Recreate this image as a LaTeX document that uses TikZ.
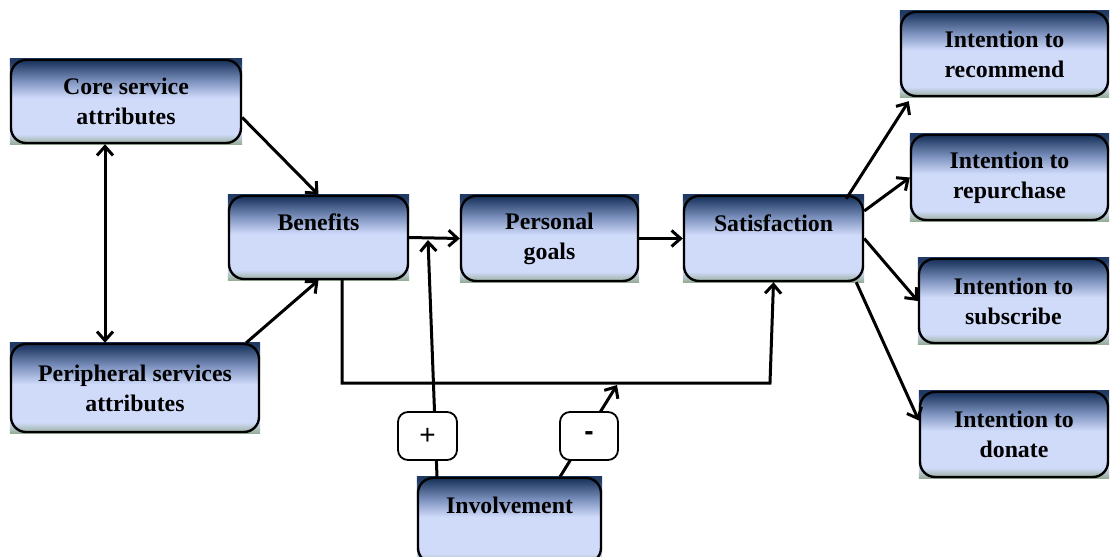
\documentclass[tikz,border=0pt]{standalone}
\usepackage{fontspec}
\setmainfont{Liberation Serif}
\newfontfamily\signfont{Liberation Sans}
\usetikzlibrary{arrows.meta,backgrounds}
\definecolor{bdark}{RGB}{32,58,100}
\definecolor{bmid}{RGB}{125,146,190}
\definecolor{blight}{RGB}{208,219,250}
\definecolor{bgreen}{RGB}{150,172,150}
\pgfdeclareverticalshading{boxshade}{100bp}{color(0bp)=(bgreen); color(25bp)=(bgreen); color(31bp)=(blight); color(52bp)=(blight); color(62bp)=(bmid); color(73bp)=(bdark); color(100bp)=(bdark)}
\tikzset{
  box/.style={draw=black, line width=1.2pt, rounded corners=7.5pt, align=center,
    font=\fontsize{11.9pt}{15pt}\selectfont\bfseries, inner sep=0pt},
  sign/.style={draw=black, fill=white, line width=0.9pt, rounded corners=5pt,
    font=\signfont\fontsize{14pt}{15pt}\selectfont, inner sep=0pt},
  conn/.style={line width=1.5pt, -{Straight Barb[length=4.5pt,width=8pt]}},
  dconn/.style={line width=1.5pt, {Straight Barb[length=4.5pt,width=8pt]}-{Straight Barb[length=4.5pt,width=8pt]}},
}
\newcommand\shadebox[1]{\shade[shading=boxshade] (#1.south west) rectangle (#1.north east);}
\begin{document}
\begin{tikzpicture}[x=0.5pt,y=-0.5pt]
\useasboundingbox (0,0) rectangle (1110,557);
% boxes
\node[box, minimum width=115pt, minimum height=41.5pt] (core) at (126,101.5) {Core service\\attributes};
\node[box, minimum width=89.5pt, minimum height=41.5pt] (ben) at (318.5,237.5) {Benefits\\\mbox{}};
\node[box, minimum width=124pt, minimum height=44pt] (peri) at (135,388) {Peripheral services\\attributes};
\node[box, minimum width=88.5pt, minimum height=42.5pt] (pers) at (549.5,238.5) {Personal\\goals};
\node[box, minimum width=89.5pt, minimum height=42.5pt] (sat) at (773.5,238.5) {Satisfaction\\\mbox{}};
\node[box, minimum width=91.5pt, minimum height=42.5pt] (inv) at (509.5,520.5) {Involvement\\\mbox{}};
\node[box, minimum width=103.5pt, minimum height=42pt] (rec) at (1004.5,54) {Intention to\\recommend};
\node[box, minimum width=98.5pt, minimum height=42.5pt] (rep) at (1009.5,177.5) {Intention to\\repurchase};
\node[box, minimum width=94.5pt, minimum height=42pt] (sub) at (1013.5,301) {Intention to\\subscribe};
\node[box, minimum width=94pt, minimum height=42.5pt] (don) at (1014,434.5) {Intention to\\donate};
\begin{scope}[on background layer]
\foreach \b in {core,ben,peri,pers,sat,inv,rec,rep,sub,don}{\shadebox{\b}}
\end{scope}
% coordinates
\coordinate (fbL) at (342,383);
\coordinate (fbR) at (770,383);
\coordinate (plustip) at (428,240);
\coordinate (mintip) at (617,385);
% connectors
\draw[conn] ([yshift=-8pt]core.east) -- (ben.north);
\draw[conn] ([xshift=-7pt]peri.north east) -- (ben.south);
\draw[dconn] ([xshift=-10.5pt]core.south) -- ([xshift=-15pt]peri.north);
\draw[conn] (ben.east) -- (pers.west);
\draw[conn] (pers.east) -- (sat.west);
\draw[conn] ([xshift=11.75pt]ben.south) -- (fbL) -- (fbR) -- (sat.south);
\draw[conn] ([xshift=-36.25pt]inv.north) -- (plustip);
\draw[conn] ([xshift=25.25pt]inv.north) -- (mintip);
\draw[conn] ([xshift=-9pt,yshift=-2pt]sat.north east) -- ([xshift=4.5pt,yshift=-2pt]rec.south west);
\draw[conn] ([yshift=13.75pt]sat.east) -- (rep.west);
\draw[conn] (sat.east) -- (sub.west);
\draw[conn] ([xshift=-4pt]sat.south east) -- ([yshift=7pt]don.west);
% signs
\node[sign, minimum width=29.5pt, minimum height=24pt, text depth=-2pt] (plus) at (427.5,436) {+};
\node[sign, minimum width=29pt, minimum height=24pt, text depth=-2pt] (minus) at (589,436) {\textbf{-}};
\end{tikzpicture}
\end{document}
